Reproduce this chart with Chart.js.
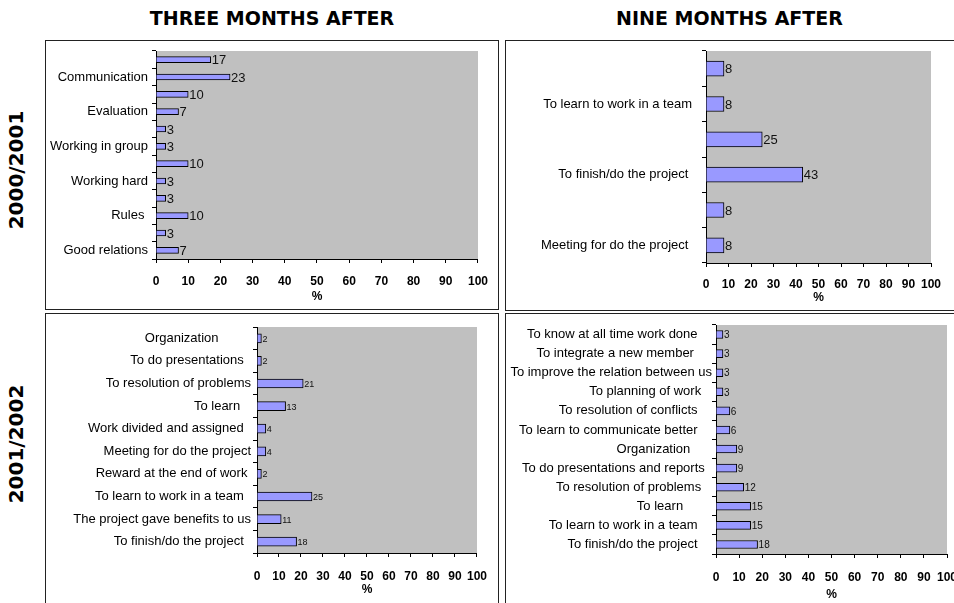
<!DOCTYPE html>
<html>
<head>
<meta charset="utf-8">
<script src="https://cdn.jsdelivr.net/npm/chart.js@4.4.0/dist/chart.umd.min.js"></script>
<style>
	body{margin:0;background:#fff;width:954px;height:603px;overflow:hidden;position:relative;font-family:"Liberation Sans",Arial,sans-serif;}
	.head{position:absolute;top:7px;height:24px;line-height:24px;font:bold 19px "DejaVu Sans",sans-serif;text-align:center;color:#000;}
	.side{position:absolute;width:160px;height:24px;line-height:24px;font:bold 20px "DejaVu Sans",sans-serif;text-align:center;color:#000;transform:rotate(-90deg);}
	.box{position:absolute;border:1px solid #222;box-sizing:border-box;}
	canvas{position:absolute;}
</style>
</head>
<body>
<div class="head" style="left:45px;width:454px;">THREE MONTHS AFTER</div>
<div class="head" style="left:505px;width:449px;">NINE MONTHS AFTER</div>
<div class="side" style="left:-64px;top:158px;">2000/2001</div>
<div class="side" style="left:-64px;top:432px;">2001/2002</div>

<div class="box" id="b1"></div><canvas id="c1"></canvas>
<div class="box" id="b2"></div><canvas id="c2"></canvas>
<div class="box" id="b3"></div><canvas id="c3"></canvas>
<div class="box" id="b4"></div><canvas id="c4"></canvas>

<script>
// Data, top to bottom as in the picture (blank = label hidden in the original)
const threeMonths2001Labels = ['', 'Communication', '', 'Evaluation', '', 'Working in group', '', 'Working hard', '', 'Rules ', '', 'Good relations'];
const threeMonths2001Values = [17, 23, 10, 7, 3, 3, 10, 3, 3, 10, 3, 7];

const nineMonths2001Labels = ['', 'To learn to work in a team', '', 'To finish/do the project ', '', 'Meeting for do the project '];
const nineMonths2001Values = [8, 8, 25, 43, 8, 8];

const threeMonths2002Labels = ['Organization         ', 'To do presentations  ', 'To resolution of problems', 'To learn   ',
	'Work divided and assigned  ', 'Meeting for do the project', 'Reward at the end of work ', 'To learn to work in a team  ',
	'The project gave benefits to us', 'To finish/do the project  '];
const threeMonths2002Values = [2, 2, 21, 13, 4, 4, 2, 25, 11, 18];

const nineMonths2002Labels = ['To know at all time work done    ', 'To integrate a new member     ', 'To improve the relation between us',
	'To planning of work   ', 'To resolution of conflicts    ', 'To learn to communicate better    ', 'Organization      ',
	'To do presentations and reports  ', 'To resolution of problems   ', 'To learn        ', 'To learn to work in a team    ',
	'To finish/do the project    '];
const nineMonths2002Values = [3, 3, 3, 3, 6, 6, 9, 9, 12, 15, 15, 18];

const xTicks = [0, 10, 20, 30, 40, 50, 60, 70, 80, 90, 100];
const xTitle = '%';

const FONT = '"Liberation Sans", Arial, sans-serif';

// gray plot background
const plotBg = {
	id: 'plotBg',
	beforeDraw(chart){
		const a = chart.chartArea, ctx = chart.ctx;
		ctx.save(); ctx.fillStyle = '#c0c0c0';
		ctx.fillRect(a.left, a.top, a.right - a.left, a.bottom - a.top);
		ctx.restore();
	}
};

// value labels at bar ends
const valueLabels = {
	id: 'valueLabels',
	afterDatasetsDraw(chart, args, opts){
		const ctx = chart.ctx;
		const meta = chart.getDatasetMeta(0);
		const vals = chart.data.datasets[0].data;
		ctx.save();
		ctx.fillStyle = '#111';
		ctx.font = opts.size + 'px ' + FONT;
		ctx.textBaseline = 'middle';
		ctx.textAlign = 'left';
		meta.data.forEach((bar, i) => { ctx.fillText(String(vals[i]), bar.x + 1, bar.y + 1); });
		ctx.restore();
	}
};

function makeChart(p){
	const [bx, by, bw, bh] = p.box;
	const [al, at, ar, ab] = p.area;
	const box = document.getElementById(p.boxId);
	box.style.left = bx + 'px'; box.style.top = by + 'px'; box.style.width = bw + 'px'; box.style.height = bh + 'px';
	const canvas = document.getElementById(p.id);
	canvas.width = bw; canvas.height = bh;
	canvas.style.left = bx + 'px'; canvas.style.top = by + 'px';

	return new Chart(canvas, {
		type: 'bar',
		data: {
			labels: p.labels,
			datasets: [{ data: p.values, backgroundColor: '#9999ff', borderColor: '#000', borderWidth: 1, barThickness: p.barThickness }]
		},
		options: {
			indexAxis: 'y',
			responsive: false,
			animation: false,
			layout: { padding: { left: 0, top: at - by, right: bx + bw - ar, bottom: 0 } },
			plugins: { legend: { display: false }, tooltip: { enabled: false }, valueLabels: { size: p.valueSize } },
			scales: {
				x: {
					min: 0, max: 100,
					afterBuildTicks(s){ s.ticks = xTicks.map(v => ({ value: v })); },
					ticks: { color: '#000', font: { family: FONT, size: 12, weight: 'bold' }, padding: p.tickPad, maxRotation: 0, autoSkip: false },
					grid: { drawOnChartArea: false, color: '#000', tickLength: 4 },
					border: { color: '#000' },
					title: { display: true, text: xTitle, color: '#000', font: { family: FONT, size: 12, weight: 'bold' }, padding: { top: 0, bottom: p.titlePad } },
					afterFit(s){ s.height = by + bh - ab; }
				},
				y: {
					ticks: { color: '#000', font: { family: FONT, size: 13 }, padding: p.labelPad, autoSkip: false },
					grid: { drawOnChartArea: false, color: '#000', tickLength: 4, offset: true },
					border: { color: '#000' },
					afterFit(s){ s.width = al - bx; s.paddingTop = 0; s.paddingBottom = 0; }
				}
			}
		},
		plugins: [plotBg, valueLabels]
	});
}

function setup(){
	makeChart({ id: 'c1', boxId: 'b1', labels: threeMonths2001Labels, values: threeMonths2001Values,
		box: [45, 40, 454, 270], area: [156, 51, 481, 259], barThickness: 6, labelPad: 4, tickPad: 11, titlePad: 6, valueSize: 13 });
	makeChart({ id: 'c2', boxId: 'b2', labels: nineMonths2001Labels, values: nineMonths2001Values,
		box: [505, 40, 470, 271], area: [706, 51, 931, 263], barThickness: 15, labelPad: 10, tickPad: 10, titlePad: 6, valueSize: 13 });
	makeChart({ id: 'c3', boxId: 'b3', labels: threeMonths2002Labels, values: threeMonths2002Values,
		box: [45, 313, 454, 300], area: [257, 327, 479, 553], barThickness: 9, labelPad: 2, tickPad: 12, titlePad: 16, valueSize: 9 });
	makeChart({ id: 'c4', boxId: 'b4', labels: nineMonths2002Labels, values: nineMonths2002Values,
		box: [505, 313, 470, 300], area: [716, 325, 947, 554], barThickness: 8, labelPad: 0, tickPad: 12, titlePad: 11, valueSize: 10 });
}

if (document.readyState === 'loading') document.addEventListener('DOMContentLoaded', setup);
else setup();
</script>
</body>
</html>
